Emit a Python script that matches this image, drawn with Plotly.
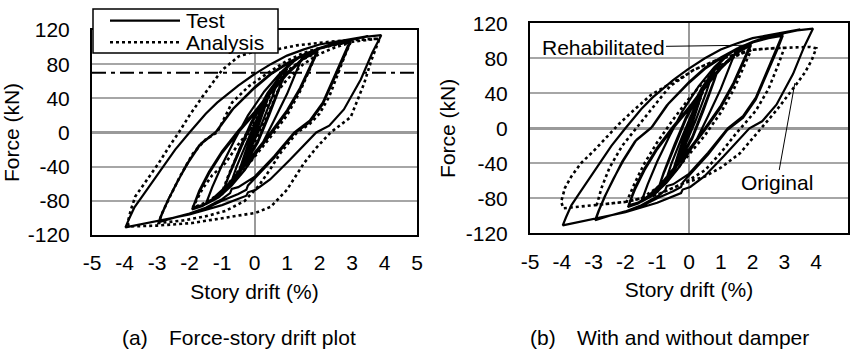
import plotly.graph_objects as go

# ---------------- data ----------------
x_ticks = [-5, -4, -3, -2, -1, 0, 1, 2, 3, 4, 5]
x_tick_text = ["-5", "-4", "-3", "-2", "-1", "0", "1", "2", "3", "4", "5"]
y_ticks = [-120, -80, -40, 0, 40, 80, 120]
y_tick_text = ["-120", "-80", "-40", "0", "40", "80", "120"]

design_force = 70  # dash-dot reference level (kN)

test_drift = [0, 0.25, 0.1, -0.1, -0.25, -0.1, 0.1, 0.3, 0.5, 0.3, 0.0, -0.3, -0.5, -0.3, 0.0,
              0.4, 0.75, 0.55, 0.2, -0.2, -0.5, -0.75, -0.55, -0.2, 0.2,
              0.6, 1.0, 0.8, 0.45, 0.1, -0.4, -0.75, -1.0, -0.8, -0.45, -0.1, 0.4, 0.75, 1.0,
              0.8, 0.45, 0.1, -0.4, -0.75, -1.0, -0.8, -0.45, -0.1, 0.4,
              0.9, 1.2, 1.5, 1.3, 1.0, 0.6, 0.2, -0.3, -0.7, -1.1, -1.5, -1.3, -1.0, -0.6, -0.2, 0.3, 0.8,
              1.2, 1.6, 1.95, 1.7, 1.4, 1.0, 0.5, 0.0, -0.5, -0.8, -0.85, -1.2, -1.6, -1.92,
              -1.7, -1.4, -1.0, -0.5, 0.0, 0.5, 1.0, 1.5, 1.95,
              1.7, 1.4, 1.0, 0.5, 0.0, -0.5, -0.9, -1.3, -1.6, -1.9,
              -1.7, -1.4, -1.0, -0.5, 0.0, 0.5, 1.0, 1.5, 2.0, 2.5, 2.95,
              2.8, 2.6, 2.4, 2.1, 1.7, 1.22, 0.6, 0.0, -0.5, -0.7, -0.75, -1.0, -1.5, -2.0, -2.5, -2.95,
              -2.85, -2.65, -2.4, -2.1, -1.7, -1.2, -0.7, 0.0, 0.5, 1.0, 1.5, 2.0, 2.5, 2.95,
              2.8, 2.6, 2.4, 2.1, 1.7, 1.2, 0.6, 0.0, -0.2, -0.25, -0.5, -1.0, -1.5, -2.0, -2.5, -2.92,
              -2.82, -2.62, -2.38, -2.05, -1.65, -1.15, -0.65, 0.0, 0.5, 1.0, 1.5, 2.0, 2.5, 3.0, 3.4, 3.9,
              3.75, 3.62, 3.27, 2.75, 2.3, 1.9, 1.09, 0.48, 0.04, -0.2, -0.25, -0.6, -1.0, -2.0, -3.0, -3.5, -3.97,
              -3.87, -3.7, -3.46, -2.95, -2.44, -2.0, -1.5, -1.15, -0.5, -0.05, 0.5, 1.0, 1.5, 2.0, 3.0, 3.5]
test_force = [0, 28, 10, -12, -27, -8, 12, 34, 50, 28, -6, -32, -48, -25, 6,
              40, 64, 42, 8, -26, -48, -62, -40, -8, 26,
              56, 76, 56, 22, -10, -42, -60, -72, -52, -20, 10, 44, 64, 77,
              55, 20, -12, -44, -62, -73, -51, -18, 12, 46,
              72, 83, 91, 72, 45, 14, -16, -44, -62, -76, -84, -64, -38, -8, 20, 48, 70,
              84, 93, 97, 76, 52, 26, 0, -24, -46, -60, -66, -77, -86, -90,
              -70, -48, -24, 0, 22, 46, 68, 86, 95,
              74, 50, 24, -2, -26, -48, -64, -78, -85, -88,
              -68, -46, -22, 2, 24, 48, 70, 87, 98, 104, 108,
              95, 78, 60, 35, 14, 0, -28, -52, -64, -66, -71, -78, -88, -95, -100, -105,
              -95, -78, -60, -38, -15, 0, 26, 52, 68, 80, 90, 98, 103, 106,
              92, 75, 57, 33, 12, -2, -30, -54, -62, -67, -72, -80, -89, -96, -100, -103,
              -93, -76, -58, -36, -13, 2, 28, 53, 69, 81, 91, 99, 105, 109, 112, 114,
              102, 93, 62, 27, 8, 0, -32, -55, -67, -70, -74, -79, -85, -96, -104, -108, -111,
              -102, -88, -75, -47, -20, 0, 22, 35, 55, 67, 80, 90, 97, 103, 110, 113]

analysis_drift = [0, 0.5, 1.0, 0.8, 0.4, 0.0, -0.5, -1.0, -0.8, -0.4, 0.0, 0.5, 1.0, 1.5, 1.9,
                  1.7, 1.4, 1.0, 0.5, 0.0, -0.5, -1.0, -1.5, -1.9,
                  -1.6, -1.3, -0.9, -0.5, 0.0, 0.5, 1.0, 1.5, 2.0, 2.5, 2.95,
                  2.8, 2.6, 2.3, 2.0, 1.7, 1.31, 0.8, 0.5, 0.14, -0.3, -0.9, -1.5, -2.2, -2.95,
                  -2.85, -2.6, -2.3, -1.9, -1.5, -1.15, -0.69, -0.18, 0.5, 1.0, 1.5, 2.0, 2.5, 2.95, 3.4, 3.85,
                  3.6, 3.37, 2.96, 2.5, 2.34, 1.9, 1.52, 1.0, 0.5, 0.04, -0.9, -1.92, -3.0, -3.87,
                  -3.9, -3.8, -3.67, -3.3, -2.95, -2.6, -2.33, -2.0, -1.6, -1.0, -0.49, 0.02, 0.65, 1.3, 2.5, 3.85]
analysis_force = [0, 50, 75, 55, 20, -12, -45, -70, -50, -15, 12, 45, 72, 86, 93,
                  74, 48, 20, -5, -28, -52, -70, -82, -88,
                  -66, -50, -36, -14, 10, 38, 62, 80, 92, 100, 105,
                  92, 72, 42, 22, 10, 0, -24, -42, -62, -80, -92, -98, -103, -106,
                  -95, -75, -52, -25, -8, 0, 35, 54, 72, 84, 93, 99, 103, 106, 108, 110,
                  85, 57, 18, 4, 0, -18, -36, -67, -87, -94, -100, -106, -109, -110,
                  -105, -90, -75, -55, -36, -15, 0, 20, 42, 73, 89, 95, 97, 102, 107, 110]

original_drift = [0, 0.5, 1.0, 1.5, 1.95, 1.7, 1.4, 1.0, 0.5, 0.0, -0.5, -1.0, -1.5, -1.96,
                  -1.7, -1.4, -1.0, -0.5, 0.0, 0.5, 1.0, 1.5, 1.92, 2.5, 3.0,
                  2.8, 2.5, 2.1, 1.5, 1.0, 0.5, -0.18, -1.0, -2.0, -2.5, -2.9,
                  -2.75, -2.5, -2.1, -1.5, -1.0, -0.6, -0.18, 0.14, 0.87, 1.6, 1.92, 2.6, 3.2, 3.8, 4.0,
                  3.86, 3.65, 3.39, 2.76, 2.13, 1.6, 1.0, 0.5, -0.18, -1.0, -1.96, -2.9, -3.5, -3.95,
                  -4.02, -3.9, -3.7, -3.4, -3.0, -2.6, -2.2, -1.7, -1.2, -0.6, -0.18, 0.14, 0.87, 1.6, 1.92]
original_force = [0, 48, 70, 84, 89, 68, 44, 18, -8, -30, -52, -68, -80, -84,
                  -62, -40, -16, 10, 34, 55, 72, 83, 89.5, 91, 92,
                  72, 45, 20, -5, -28, -48, -63, -76, -84, -86, -87.7,
                  -68, -45, -20, 8, 30, 48, 59, 66.6, 78, 85.7, 89.5, 91.5, 92.5, 93, 91.4,
                  78, 64, 51, 21, -5.7, -28.6, -45, -55, -63, -76, -84, -87.7, -89.5, -91.4,
                  -84, -68, -55, -40, -26, -10, 5, 22, 38, 51, 59, 66.6, 78, 85.7, 89.5]

# ---------------- figure ----------------
W, H = 853, 351
FONT = "Liberation Sans, Arial, sans-serif"
FS = 21

fig = go.Figure()

solid = dict(color="black", width=2.2)
dotted = dict(color="black", width=2.6, dash="dot")

fig.add_trace(go.Scatter(x=test_drift, y=test_force, mode="lines", line=solid,
                         name="Test", xaxis="x", yaxis="y"))
fig.add_trace(go.Scatter(x=analysis_drift, y=analysis_force, mode="lines", line=dotted,
                         name="Analysis", xaxis="x", yaxis="y"))
fig.add_trace(go.Scatter(x=test_drift, y=test_force, mode="lines", line=solid,
                         name="Rehabilitated", xaxis="x2", yaxis="y2"))
fig.add_trace(go.Scatter(x=original_drift, y=original_force, mode="lines", line=dotted,
                         name="Original", xaxis="x2", yaxis="y2"))

def xax(domain):
    return dict(domain=domain, range=[-5, 5], tickmode="array", tickvals=x_ticks,
                ticktext=x_tick_text, showgrid=False, zeroline=True,
                zerolinecolor="#9a9a9a", zerolinewidth=2, showline=True, mirror=True,
                linecolor="black", linewidth=2, ticks="", ticklabelstandoff=8,
                tickfont=dict(family=FONT, size=FS, color="black"),
                title=dict(text="Story drift (%)", font=dict(family=FONT, size=FS, color="black"),
                           standoff=11),
                automargin=False, fixedrange=True)

def yax(domain, anchor):
    return dict(domain=domain, anchor=anchor, range=[-120, 120], tickmode="array",
                tickvals=y_ticks, ticktext=y_tick_text, showgrid=True,
                gridcolor="#a6a6a6", gridwidth=2, zeroline=True,
                zerolinecolor="#9a9a9a", zerolinewidth=2.5, showline=True, mirror=True,
                linecolor="black", linewidth=2, ticks="", ticklabelstandoff=16,
                tickfont=dict(family=FONT, size=FS, color="black"),
                title=dict(text="Force (kN)", font=dict(family=FONT, size=FS, color="black"),
                           standoff=4),
                automargin=False, fixedrange=True)

fig.update_layout(
    width=W, height=H,
    margin=dict(l=0, r=0, t=0, b=0),
    paper_bgcolor="white", plot_bgcolor="white",
    font=dict(family=FONT, size=FS, color="black"),
    xaxis=dict(xax([92 / W, 417 / W]), anchor="y"),
    yaxis=yax([1 - 235 / H, 1 - 30 / H], "x"),
    xaxis2=dict(xax([530 / W, 848 / W]), anchor="y2"),
    yaxis2=yax([1 - 233.3 / H, 1 - 23.3 / H], "x2"),
    showlegend=False,
)

# dash-dot reference level
fig.add_shape(type="line", xref="x domain", yref="y", x0=0, x1=1,
              y0=design_force, y1=design_force,
              line=dict(color="black", width=2, dash="14px,5px,4px,5px"))

# legend box (drawn manually to match the compact reference legend)
fig.add_shape(type="rect", xref="paper", yref="paper",
              x0=93 / W, x1=278 / W, y0=1 - 53 / H, y1=1 - 9 / H,
              line=dict(color="black", width=1.5), fillcolor="white", layer="above")
for ypix, style, label in [(20.7, solid, "Test"), (42.3, dotted, "Analysis")]:
    fig.add_shape(type="line", xref="paper", yref="paper",
                  x0=110 / W, x1=180 / W, y0=1 - ypix / H, y1=1 - ypix / H,
                  line=style, layer="above")
    fig.add_annotation(xref="paper", yref="paper", x=184 / W, y=1 - ypix / H,
                       xanchor="left", yanchor="middle", text=label, showarrow=False,
                       font=dict(family=FONT, size=FS, color="black"))

fig.add_annotation(xref="x2", yref="y2", x=1.92, y=95, ax=-147, ay=2,
                   text="Rehabilitated", showarrow=True, arrowhead=0, arrowwidth=1,
                   arrowcolor="black", font=dict(family=FONT, size=FS, color="black"))
fig.add_annotation(xref="x2", yref="y2", x=3.33, y=51.8, ax=-18, ay=100,
                   text="Original", showarrow=True, arrowhead=0, arrowwidth=1,
                   arrowcolor="black", font=dict(family=FONT, size=FS, color="black"))

for xpos, txt in [(120, "(a)"), (166.7, "Force-story drift plot"),
                  (528.3, "(b)"), (575, "With and without damper")]:
    fig.add_annotation(xref="paper", yref="paper", x=xpos / W, y=1 - 337 / H,
                       xanchor="left", yanchor="middle", text=txt, showarrow=False,
                       font=dict(family=FONT, size=FS, color="black"))

fig.write_html("out.html", config={"displayModeBar": False},
               post_script="document.body.style.margin='0';")
